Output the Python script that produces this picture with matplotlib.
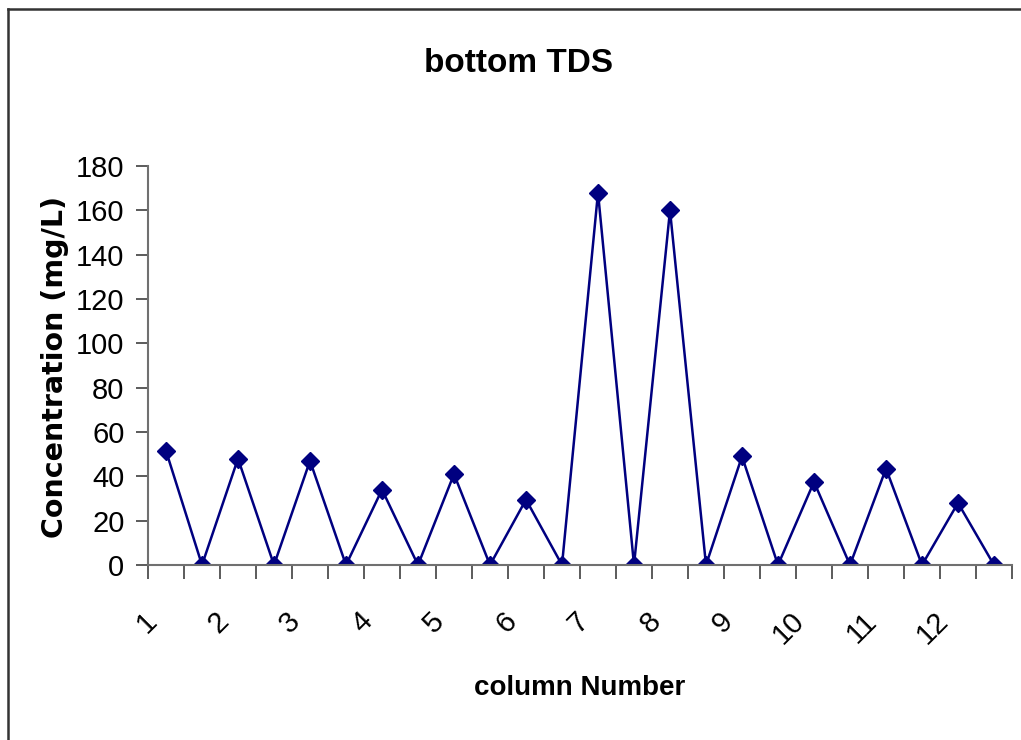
import numpy as np
import matplotlib
matplotlib.use('Agg')
import matplotlib.pyplot as plt
from matplotlib.lines import Line2D
from matplotlib.transforms import ScaledTranslation

# bottom TDS per sample, 24 categories (every other one labelled)
values = [51.5, 0, 48, 0, 47, 0, 34, 0, 41, 0, 29.5, 0,
          168, 0, 160, 0, 49, 0, 37.5, 0, 43.5, 0, 28, 0]
labels = ['1', '2', '3', '4', '5', '6', '7', '8', '9', '10', '11', '12']
yticks = [0, 20, 40, 60, 80, 100, 120, 140, 160, 180]

fig = plt.figure(figsize=(10.21, 7.40), dpi=100)
ax = fig.add_axes([148/1021, 1-565/740, 864/1021, 399/740])

x = np.arange(len(values))
ax.plot(x, values, color='#000080', lw=1.8, marker='D', markersize=9.5,
        markerfacecolor='#000080', markeredgecolor='#000080')

ax.set_xlim(-0.5, len(values) - 0.5)
ax.set_ylim(0, 180)
ax.set_yticks(yticks)
ax.set_yticklabels([str(v) for v in yticks], fontsize=21, family='Liberation Sans')

# ticks between categories, labels on every other category
ax.set_xticks(np.arange(len(values) + 1) - 0.5, minor=True)
ax.set_xticks(x[::2])
ax.set_xticklabels(labels, fontsize=21, rotation=45, ha='right', va='top',
                   family='Liberation Sans')
ax.tick_params(axis='x', which='major', length=0, pad=30)
ax.tick_params(axis='x', which='minor', length=10, width=1.2, color='#404040', direction='out')
ax.tick_params(axis='y', length=9, width=1.2, color='#404040', pad=8)
off = ScaledTranslation(-4/100, 0, fig.dpi_scale_trans)
for lab in ax.get_xticklabels():
    lab.set_transform(lab.get_transform() + off)

for s in ['top', 'right']:
    ax.spines[s].set_visible(False)
for s in ['left', 'bottom']:
    ax.spines[s].set_color('#707070')
    ax.spines[s].set_linewidth(1.5)

fig.text(519/1021, 1-63/740, 'bottom TDS', fontsize=24, fontweight='bold',
         family='Liberation Sans', ha='center', va='center')
fig.text(580/1021, 1-688/740, 'column Number', fontsize=20, fontweight='bold',
         family='Liberation Sans', ha='center', va='center')
fig.text(55/1021, 1-367/740, 'Concentration (mg/L)', fontsize=20.5, fontweight='bold',
         family='DejaVu Sans', rotation=90, ha='center', va='center')

# outer chart frame (left and top edges visible)
fig.add_artist(Line2D([7.5/1021, 7.5/1021], [0, 1-8.5/740], transform=fig.transFigure,
                      color='#333333', lw=1.8))
fig.add_artist(Line2D([7.5/1021, 1], [1-8.5/740, 1-8.5/740], transform=fig.transFigure,
                      color='#333333', lw=1.8))

fig.savefig('out.png', dpi=100)
